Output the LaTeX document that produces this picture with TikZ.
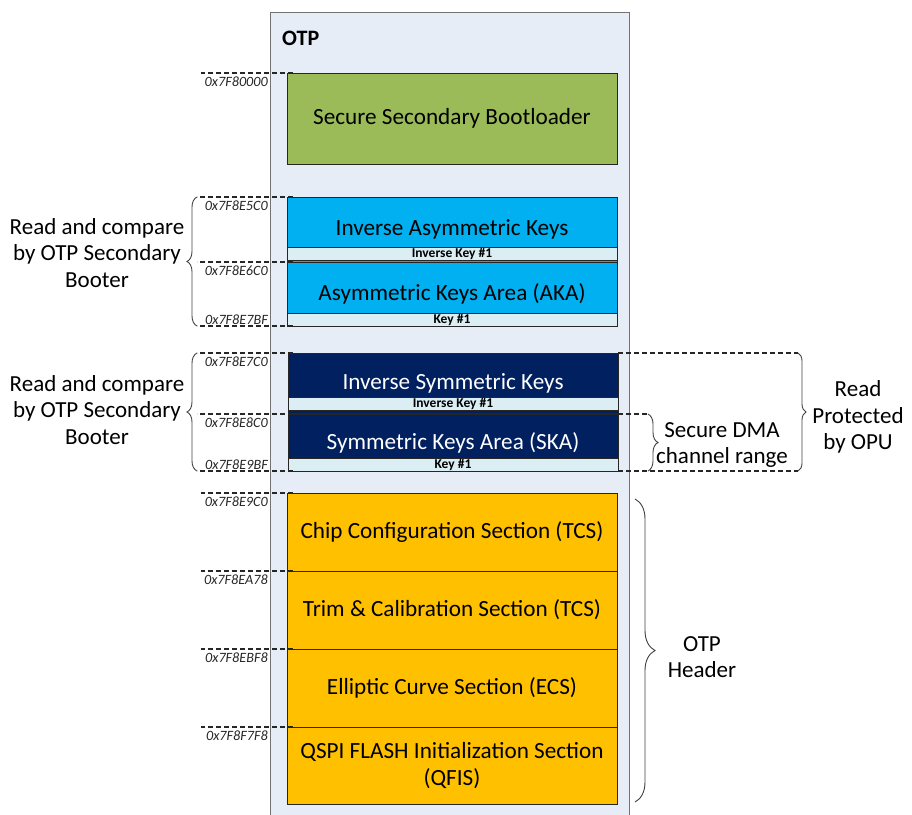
\documentclass[tikz,border=0pt]{standalone}
\usepackage{fontspec}
\setmainfont{Carlito}
\usetikzlibrary{positioning,decorations.pathreplacing}
\definecolor{memfill}{HTML}{E7EDF6}
\definecolor{bootgreen}{HTML}{9BBB59}
\definecolor{keyblue}{HTML}{00B0F0}
\definecolor{keynavy}{HTML}{002060}
\definecolor{hdrorange}{HTML}{FFC000}
\definecolor{barfill}{HTML}{DAEEF3}
\tikzset{region/.style={draw=black!85, line width=0.9pt, rectangle, minimum width=330pt, inner sep=0pt, outer sep=0pt, font=\fontsize{23.2}{27}\selectfont, align=center},
  keybar/.style={draw=black!85, line width=0.9pt, fill=barfill, minimum width=330pt, minimum height=13pt, inner sep=0pt, outer sep=0pt, font=\fontsize{13.5}{13}\bfseries\selectfont},
  addr/.style={font=\fontsize{14.2}{14}\itshape\selectfont, inner sep=1pt, text=black!85},
  addrline/.style={line width=1.1pt, dash pattern=on 5pt off 3pt, black!85},
  brc/.style={decorate, decoration={brace, amplitude=10pt}, line width=0.9pt, black!75},
  note/.style={font=\fontsize{23}{26.5}\selectfont, align=center}}

\begin{document}
\begin{tikzpicture}[x=1pt,y=-1pt]
    \useasboundingbox (0,0) rectangle (912,814);
    \node[draw=black!55, fill=memfill, line width=1pt, minimum width=359pt, minimum height=820pt, inner sep=0pt, anchor=north west] (Mem) at (270,12) {};
    \node[font=\fontsize{22}{26}\bfseries\selectfont, anchor=west, inner sep=0pt] (Lbl) at (282,38) {OTP};
    \node[region, fill=bootgreen, minimum height=91pt, anchor=north west] (N1) at (287,73) {Secure Secondary Bootloader};
    \node[region, fill=keyblue, minimum height=65pt, anchor=north west] (N2) at (287,197) {Inverse Asymmetric Keys};
    \node[region, fill=keyblue, minimum height=64pt, below=0pt of N2] (N3) {Asymmetric Keys Area (AKA)};
    \node[keybar, above=2pt of N2.south] (K2) {Inverse Key \#1};
    \node[keybar, above=0pt of N3.south] (K3) {Key \#1};
    \node[region, fill=keynavy, text=white, minimum height=60pt, anchor=north west] (N4) at (288,353) {Inverse Symmetric Keys};
    \node[region, fill=keynavy, text=white, minimum height=57pt, anchor=north west] (N5) at (288,414) {Symmetric Keys Area (SKA)};
    \node[keybar, above=3pt of N4.south] (K4) {Inverse Key \#1};
    \node[keybar, above=0pt of N5.south] (K5) {Key \#1};
    \node[region, fill=hdrorange, minimum height=78pt, anchor=north west] (N6) at (287,493) {Chip Configuration Section (TCS)};
    \node[region, fill=hdrorange, minimum height=78pt, below=0pt of N6] (N7) {Trim \& Calibration Section (TCS)};
    \node[region, fill=hdrorange, minimum height=78pt, below=0pt of N7] (N8) {Elliptic Curve Section (ECS)};
    \node[region, fill=hdrorange, minimum height=77pt, below=0pt of N8] (N9) {QSPI FLASH Initialization Section\\(QFIS)};
    \draw[addrline] ([xshift=6pt]N1.north west) -- ++(-92,0);
    \draw[addrline] ([xshift=6pt]N2.north west) -- ++(-96,0);
    \draw[addrline] ([xshift=6pt]N3.north west) -- ++(-96,0);
    \draw[addrline] ([xshift=6pt]N3.south west) -- ++(-96,0);
    \draw[addrline] ([xshift=5pt]N4.north west) -- ++(-96,0);
    \draw[addrline] ([xshift=5pt]N5.north west) -- ++(-96,0);
    \draw[addrline] ([xshift=5pt]N5.south west) -- ++(-96,0);
    \draw[addrline] ([xshift=6pt]N6.north west) -- ++(-92,0);
    \draw[addrline] ([xshift=6pt]N7.north west) -- ++(-92,0);
    \draw[addrline] ([xshift=6pt]N8.north west) -- ++(-92,0);
    \draw[addrline] ([xshift=6pt]N9.north west) -- ++(-92,0);
    \node[addr, below left=3pt and 18pt of N1.north west] (A1) {0x7F80000};
    \node[addr, below left=3pt and 18pt of N2.north west] (A2) {0x7F8E5C0};
    \node[addr, below left=3pt and 18pt of N3.north west] (A3) {0x7F8E6C0};
    \node[addr, above left=0pt and 18pt of N3.south west] (A4) {0x7F8E7BF};
    \node[addr, below left=3pt and 19pt of N4.north west] (A5) {0x7F8E7C0};
    \node[addr, below left=3pt and 19pt of N5.north west] (A6) {0x7F8E8C0};
    \node[addr, above left=0pt and 19pt of N5.south west] (A7) {0x7F8E9BF};
    \node[addr, below left=3pt and 18pt of N6.north west] (A8) {0x7F8E9C0};
    \node[addr, below left=3pt and 18pt of N7.north west] (A9) {0x7F8EA78};
    \node[addr, below left=3pt and 18pt of N8.north west] (A10) {0x7F8EBF8};
    \node[addr, below left=3pt and 18pt of N9.north west] (A11) {0x7F8F7F8};
    \draw[brc] ([xshift=-90pt]N3.south west) -- ([xshift=-90pt]N2.north west);
    \draw[brc] ([xshift=-91pt]N5.south west) -- ([xshift=-91pt]N4.north west);
    \node[note] (T1) at (97,253) {Read and compare\\by OTP Secondary\\Booter};
    \node[note] (T2) at (97,410) {Read and compare\\by OTP Secondary\\Booter};
    \draw[addrline] (N4.north east) -- ++(180,0) coordinate (R1);
    \draw[addrline] (N5.north east) -- ++(30,0) coordinate (R2);
    \draw[addrline] (N5.south east) -- ++(180,0) coordinate (R3);
    \draw[brc, decoration={amplitude=8pt}] (R1) -- (R3);
    \draw[brc] (R2) -- (R2 |- R3);
    \node[note] (T3) at (858,417) {Read\\Protected\\by OPU};
    \node[note] (T4) at (722,445) {Secure DMA\\channel range};
    \draw[brc, decoration={amplitude=20pt}] ([shift={(18pt,-6pt)}]N6.north east) -- ([shift={(18pt,2pt)}]N9.south east);
    \node[note] (T5) at (702,657) {OTP\\Header};
\end{tikzpicture}
\end{document}
